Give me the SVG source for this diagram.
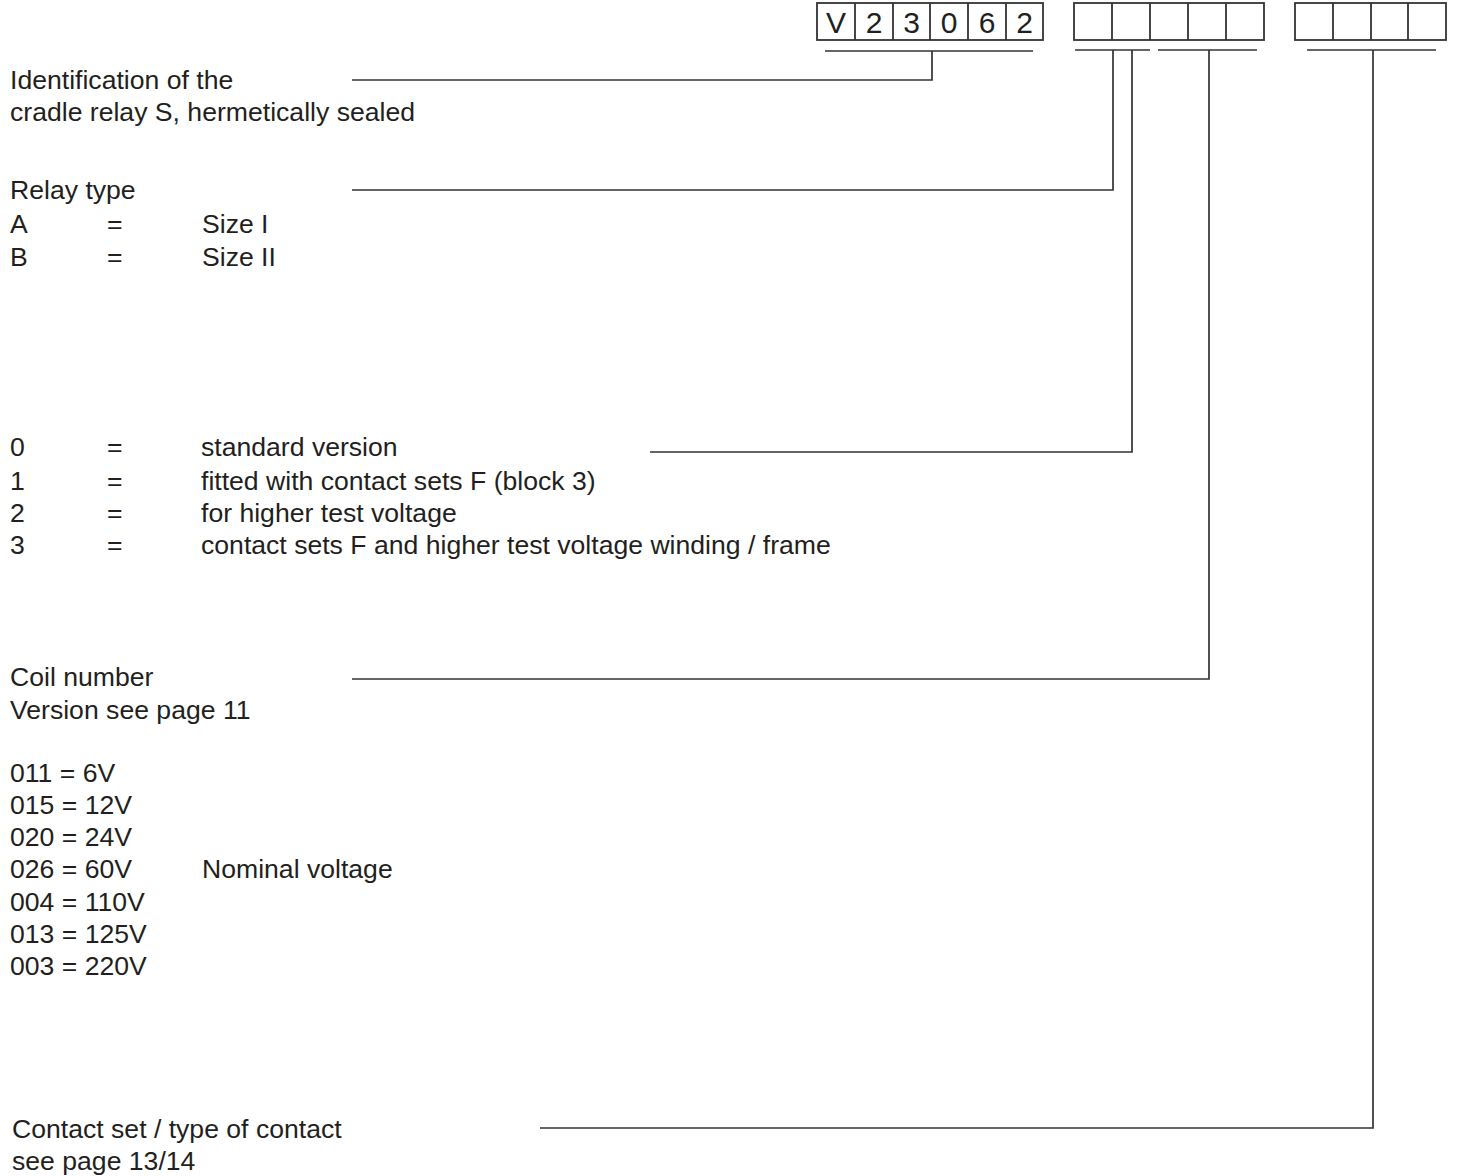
<svg xmlns="http://www.w3.org/2000/svg" width="1457" height="1176" viewBox="0 0 1457 1176">
<style>
text{font-family:"Liberation Sans",Arial,sans-serif;font-size:26.6px;fill:#231f20}
.box{fill:none;stroke:#333;stroke-width:1.8}
.ln{fill:none;stroke:#333;stroke-width:1.7}
.code{font-size:30px;text-anchor:middle}
</style>
<rect width="1457" height="1176" fill="#fff"/>
<g id="code-boxes">
<g id="box-group-1">
<rect class="box" x="817" y="3" width="226" height="37"/>
<path class="box" d="M855 3V40M893 3V40M930 3V40M968 3V40M1006 3V40"/>
<text class="code" x="836" y="33">V</text>
<text class="code" x="874" y="33">2</text>
<text class="code" x="911.5" y="33">3</text>
<text class="code" x="949" y="33">0</text>
<text class="code" x="987" y="33">6</text>
<text class="code" x="1024.5" y="33">2</text>
</g>
<g id="box-group-2">
<rect class="box" x="1074" y="3" width="190" height="37"/>
<path class="box" d="M1112 3V40M1150 3V40M1188 3V40M1226 3V40"/>
</g>
<g id="box-group-3">
<rect class="box" x="1295" y="3" width="151" height="37"/>
<path class="box" d="M1333 3V40M1371 3V40M1408 3V40"/>
</g>
</g>
<g id="connectors">
<path class="ln" d="M825 51H1033"/>
<path class="ln" d="M1075 50H1150"/>
<path class="ln" d="M1158 50H1257"/>
<path class="ln" d="M1307 50H1436"/>
<path class="ln" d="M352 80H932V51"/>
<path class="ln" d="M352 190H1113V50"/>
<path class="ln" d="M650 452H1132V50"/>
<path class="ln" d="M352 679H1209V50"/>
<path class="ln" d="M540 1128H1373V50"/>
</g>
<g id="node-identification">
<text x="10" y="89">Identification of the</text>
<text x="10" y="121">cradle relay S, hermetically sealed</text>
</g>
<g id="node-relay-type">
<text x="10" y="199">Relay type</text>
<text x="10" y="233">A</text><text x="107" y="233">=</text><text x="202" y="233">Size I</text>
<text x="10" y="266">B</text><text x="107" y="266">=</text><text x="202" y="266">Size II</text>
</g>
<g id="node-version">
<text x="10" y="456">0</text><text x="107" y="456">=</text><text x="201" y="456">standard version</text>
<text x="10" y="490">1</text><text x="107" y="490">=</text><text x="201" y="490">fitted with contact sets F (block 3)</text>
<text x="10" y="522">2</text><text x="107" y="522">=</text><text x="201" y="522">for higher test voltage</text>
<text x="10" y="554">3</text><text x="107" y="554">=</text><text x="201" y="554">contact sets F and higher test voltage winding / frame</text>
</g>
<g id="node-coil">
<text x="10" y="686">Coil number</text>
<text x="10" y="719">Version see page 11</text>
<text x="10" y="782">011 = 6V</text>
<text x="10" y="814">015 = 12V</text>
<text x="10" y="846">020 = 24V</text>
<text x="10" y="878">026 = 60V</text>
<text x="202" y="878">Nominal voltage</text>
<text x="10" y="911">004 = 110V</text>
<text x="10" y="943">013 = 125V</text>
<text x="10" y="975">003 = 220V</text>
</g>
<g id="node-contact">
<text x="12" y="1138">Contact set / type of contact</text>
<text x="12" y="1170">see page 13/14</text>
</g>
</svg>
